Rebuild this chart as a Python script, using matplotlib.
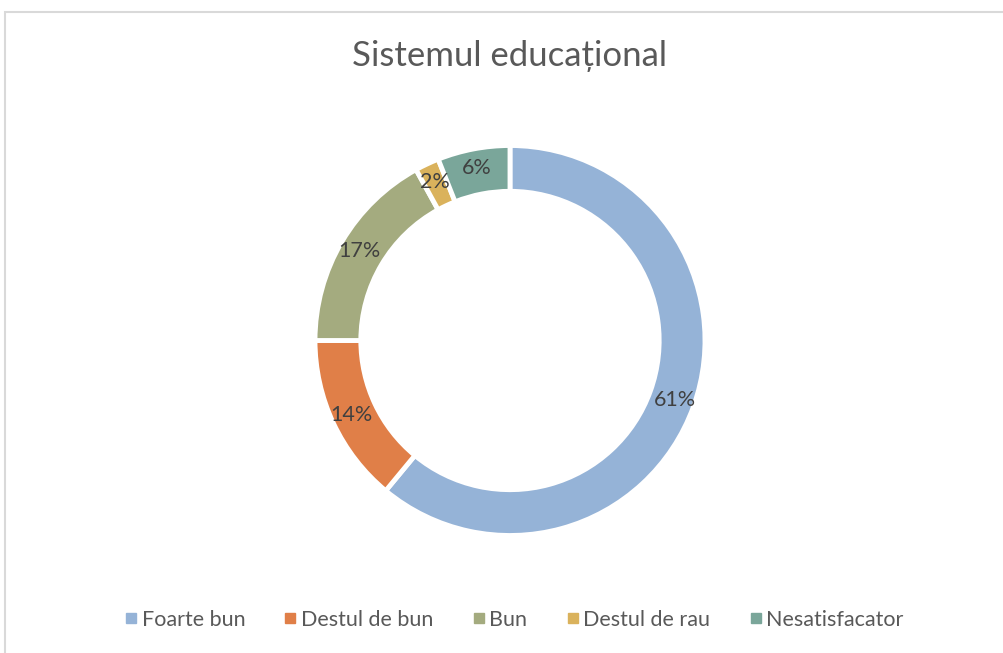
import matplotlib
matplotlib.use("Agg")
import matplotlib.pyplot as plt
from matplotlib.patches import Rectangle
from matplotlib.lines import Line2D

plt.rcParams['font.family'] = ['Lato', 'DejaVu Sans']

title = "Sistemul educațional"
categories = ["Foarte bun", "Destul de bun", "Bun", "Destul de rau", "Nesatisfacator"]
values = [61, 14, 17, 2, 6]
colors = ["#95B3D7", "#E07F48", "#A4AB7F", "#DAB25C", "#7AA69A"]

W, H = 1004, 653
fig = plt.figure(figsize=(W / 100, H / 100), dpi=100)
fig.patch.set_facecolor("white")

# outer chart border
fig.add_artist(Rectangle((5 / W, -0.1), 1.2, (H - 11.5) / H + 0.1, transform=fig.transFigure,
                         fill=False, edgecolor="#D9D9D9", linewidth=1.5))

cx, cy, R = 510, 340.5, 195
ax = fig.add_axes([(cx - R) / W, (H - cy - R) / H, 2 * R / W, 2 * R / H])
wedges, texts, autotexts = ax.pie(
    values, colors=colors, startangle=90, counterclock=False,
    autopct=lambda p: f"{p:.0f}%", pctdistance=0.9,
    wedgeprops=dict(width=0.235, edgecolor="white", linewidth=3.5),
    textprops=dict(color="#404040", fontsize=15.5),
)
ax.set_xlim(-1, 1)
ax.set_ylim(-1, 1)
ax.set_aspect("equal")
ax.axis("off")

fig.text(cx / W, 1 - 56 / H, title, ha="center", va="center", fontsize=25, color="#595959")

handles = [Line2D([0], [0], marker="s", linestyle="none", markersize=7,
                  markerfacecolor=c, markeredgecolor=c) for c in colors]
fig.legend(handles, categories, loc="center", bbox_to_anchor=(513 / W, 1 - 620 / H),
           ncol=5, frameon=False, fontsize=15.5, handletextpad=0.1, columnspacing=1.7,
           labelcolor="#595959", handlelength=0.8)

fig.savefig("out.png", dpi=100, facecolor="white")
